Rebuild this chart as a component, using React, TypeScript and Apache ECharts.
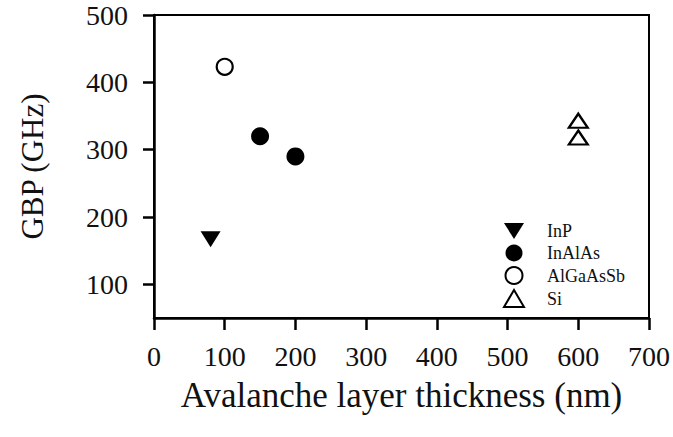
import React, { useEffect, useRef } from "react";
import * as echarts from "echarts";

// Gain-bandwidth product vs. avalanche layer thickness
const inpPoints: [number, number][] = [[80, 167]];
const inalasPoints: [number, number][] = [[150, 320], [200, 290]];
const algaassbPoints: [number, number][] = [[100, 423]];
const siPoints: [number, number][] = [[600, 343], [600, 318]];

const xTicks = [0, 100, 200, 300, 400, 500, 600, 700];
const yTicks = [100, 200, 300, 400, 500];

const FONT = "'Liberation Serif', 'Times New Roman', serif";
const DOWN_TRIANGLE = "path://M0,0 L20,0 L10,16 Z";

export default function App() {
  const ref = useRef<HTMLDivElement>(null);

  useEffect(() => {
    if (!ref.current) return;
    const chart = echarts.init(ref.current, null, { renderer: "svg" });
    const axisLine = { show: true, lineStyle: { color: "#000", width: 2.5 } };
    const labelStyle = { color: "#111", fontFamily: FONT, fontSize: 28 };
    const filled = { color: "#000", opacity: 1 };
    const hollow = { color: "#fff", borderColor: "#000", borderWidth: 2.2, opacity: 1 };

    chart.setOption({
      animation: false,
      backgroundColor: "#fff",
      grid: {
        left: 154,
        right: 22,
        top: 15,
        bottom: 119,
        show: true,
        borderColor: "#000",
        borderWidth: 2,
      },
      legend: {
        orient: "vertical",
        left: 498,
        top: 217,
        itemWidth: 20,
        itemHeight: 17,
        itemGap: 4,
        textStyle: {
          fontFamily: FONT,
          fontSize: 18,
          color: "#111",
          padding: [0, 0, 0, 18],
        },
        data: [
          { name: "InP", icon: DOWN_TRIANGLE },
          { name: "InAlAs" },
          { name: "AlGaAsSb" },
          { name: "Si" },
        ],
      },
      xAxis: {
        type: "value",
        min: 0,
        max: 700,
        interval: 100,
        name: "Avalanche layer thickness (nm)",
        nameLocation: "middle",
        nameGap: 60,
        nameTextStyle: { fontFamily: FONT, fontSize: 35, color: "#111" },
        axisLine,
        axisTick: {
          show: true,
          inside: false,
          length: 12,
          lineStyle: { color: "#000", width: 2.5 },
          customValues: xTicks,
        },
        axisLabel: { ...labelStyle, margin: 24, customValues: xTicks },
        splitLine: { show: false },
      },
      yAxis: {
        type: "value",
        min: 50,
        max: 500,
        interval: 50,
        name: "GBP (GHz)",
        nameLocation: "middle",
        nameGap: 106,
        nameTextStyle: { fontFamily: FONT, fontSize: 31, color: "#111" },
        axisLine,
        axisTick: {
          show: true,
          inside: false,
          length: 11,
          lineStyle: { color: "#000", width: 2.5 },
          customValues: yTicks,
        },
        axisLabel: { ...labelStyle, margin: 26, customValues: yTicks },
        splitLine: { show: false },
      },
      series: [
        {
          name: "InP",
          type: "scatter",
          data: inpPoints,
          symbol: "triangle",
          symbolRotate: 180,
          symbolSize: [20, 16],
          itemStyle: filled,
        },
        {
          name: "InAlAs",
          type: "scatter",
          data: inalasPoints,
          symbol: "circle",
          symbolSize: 18,
          itemStyle: filled,
        },
        {
          name: "AlGaAsSb",
          type: "scatter",
          data: algaassbPoints,
          symbol: "circle",
          symbolSize: 16,
          itemStyle: hollow,
        },
        {
          name: "Si",
          type: "scatter",
          data: siPoints,
          symbol: "triangle",
          symbolSize: [19, 14],
          itemStyle: hollow,
        },
      ],
    });

    return () => chart.dispose();
  }, []);

  return <div ref={ref} style={{ width: 673, height: 437, position: "fixed", left: 0, top: 0 }} />;
}
